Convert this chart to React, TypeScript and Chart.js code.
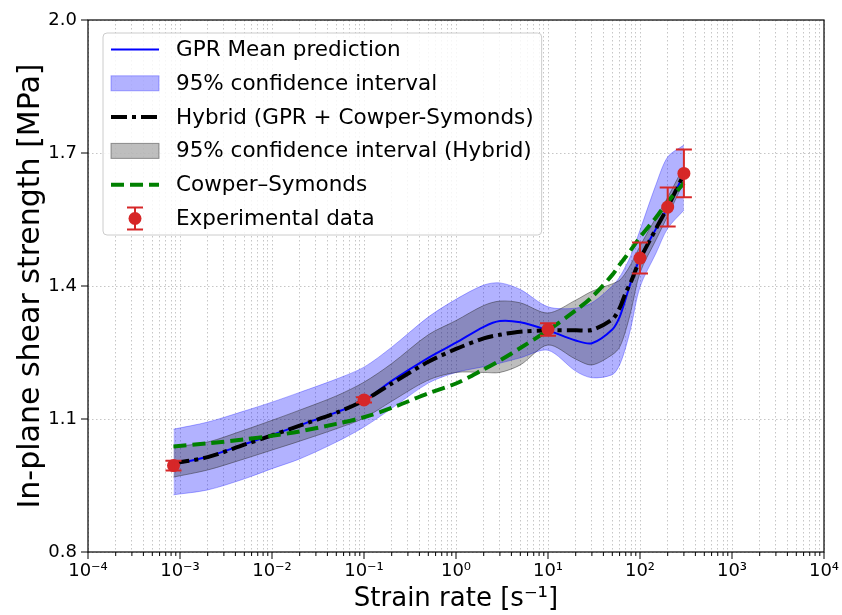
import React, { useEffect, useRef } from 'react';
import { Chart, registerables } from 'chart.js';

Chart.register(...registerables);

// ---------- data ----------
const strainRates = [8.5e-4, 2e-3, 5e-3, 1e-2, 2e-2, 5e-2, 0.1, 0.2, 0.5, 1, 2, 3, 5, 10, 20, 30, 50, 60, 70, 80, 100, 150, 200, 300];

const gprMean = [0.998, 1.015, 1.043, 1.064, 1.086, 1.115, 1.141, 1.186, 1.238, 1.272, 1.308, 1.321, 1.318, 1.300, 1.277, 1.271, 1.302, 1.330, 1.372, 1.410, 1.463, 1.530, 1.578, 1.652];
const gprLower = [0.929, 0.940, 0.965, 0.988, 1.010, 1.048, 1.082, 1.124, 1.181, 1.205, 1.218, 1.226, 1.238, 1.255, 1.208, 1.193, 1.200, 1.222, 1.262, 1.308, 1.398, 1.475, 1.530, 1.571];
const gprUpper = [1.077, 1.093, 1.118, 1.138, 1.160, 1.190, 1.217, 1.262, 1.330, 1.370, 1.402, 1.407, 1.392, 1.353, 1.350, 1.362, 1.400, 1.420, 1.445, 1.470, 1.526, 1.630, 1.691, 1.718];

const hybridMean = [1.000, 1.014, 1.042, 1.063, 1.085, 1.114, 1.142, 1.180, 1.229, 1.258, 1.282, 1.290, 1.297, 1.300, 1.300, 1.301, 1.325, 1.350, 1.385, 1.410, 1.460, 1.530, 1.578, 1.652];
const hybridLower = [0.969, 0.985, 1.010, 1.030, 1.050, 1.078, 1.102, 1.140, 1.188, 1.205, 1.205, 1.205, 1.222, 1.267, 1.235, 1.222, 1.245, 1.262, 1.300, 1.345, 1.430, 1.505, 1.558, 1.635];
const hybridUpper = [1.037, 1.048, 1.075, 1.097, 1.120, 1.152, 1.183, 1.225, 1.290, 1.322, 1.356, 1.366, 1.362, 1.339, 1.368, 1.388, 1.405, 1.413, 1.430, 1.450, 1.490, 1.555, 1.600, 1.670];

const cowperSymonds = [1.038, 1.045, 1.054, 1.062, 1.072, 1.089, 1.104, 1.125, 1.158, 1.180, 1.212, 1.232, 1.260, 1.300, 1.345, 1.375, 1.425, 1.448, 1.466, 1.482, 1.510, 1.555, 1.590, 1.632];

const expRates = [8.5e-4, 0.1, 10, 100, 200, 300];
const expStrength = [0.995, 1.143, 1.302, 1.463, 1.578, 1.654];
const expError = [0.011, 0.006, 0.014, 0.035, 0.044, 0.054];

const xDecades = [1e-4, 1e-3, 1e-2, 1e-1, 1e0, 1e1, 1e2, 1e3, 1e4];
const xTickLabels = ['10⁻⁴', '10⁻³', '10⁻²', '10⁻¹', '10⁰', '10¹', '10²', '10³', '10⁴'];
const yTicks = [0.8, 1.1, 1.4, 1.7, 2.0];
const yTickLabels = ['0.8', '1.1', '1.4', '1.7', '2.0'];

const legendLabels = [
  'GPR Mean prediction',
  '95% confidence interval',
  'Hybrid (GPR + Cowper-Symonds)',
  '95% confidence interval (Hybrid)',
  'Cowper–Symonds',
  'Experimental data',
];

// ---------- styles ----------
const FONT = 'DejaVu Sans';
const BLUE = '#0000ff';
const BLUE_FILL = 'rgba(0,0,255,0.3)';
const GRAY_FILL = 'rgba(40,40,40,0.3)';
const GRAY_EDGE = 'rgba(40,40,40,0.45)';
const GREEN = '#008000';
const RED = '#d62728';
const HYBRID_DASH = [16, 5, 4, 5];
const CS_DASH = [13, 6];
const TENSION = 0.3;

const pts = (ys: number[]) => strainRates.map((x, i) => ({ x, y: ys[i] }));

function decadeIndex(v: number) {
  for (let i = 0; i < xDecades.length; i++) {
    if (Math.abs(Math.log10(v) - Math.log10(xDecades[i])) < 1e-6) return i;
  }
  return -1;
}

const overlayPlugin = {
  id: 'overlay',
  afterDatasetsDraw(chart: any) {
    const { ctx, scales } = chart;
    const xs = scales.x, ys = scales.y;
    ctx.save();
    ctx.strokeStyle = RED;
    ctx.lineWidth = 2;
    expRates.forEach((r, i) => {
      const px = xs.getPixelForValue(r);
      const top = ys.getPixelForValue(expStrength[i] + expError[i]);
      const bot = ys.getPixelForValue(expStrength[i] - expError[i]);
      ctx.beginPath();
      ctx.moveTo(px, top); ctx.lineTo(px, bot);
      ctx.moveTo(px - 8, top); ctx.lineTo(px + 8, top);
      ctx.moveTo(px - 8, bot); ctx.lineTo(px + 8, bot);
      ctx.stroke();
    });
    ctx.restore();
  },
  afterDraw(chart: any) {
    const { ctx, chartArea: a, scales } = chart;
    ctx.save();
    // frame
    ctx.strokeStyle = '#000';
    ctx.lineWidth = 1.2;
    ctx.strokeRect(a.left, a.top, a.right - a.left, a.bottom - a.top);
    // ticks
    ctx.lineWidth = 1;
    ctx.beginPath();
    scales.x.ticks.forEach((t: any) => {
      const px = scales.x.getPixelForValue(t.value);
      const len = decadeIndex(t.value) >= 0 ? 7 : 4;
      ctx.moveTo(px, a.bottom); ctx.lineTo(px, a.bottom + len);
    });
    scales.y.ticks.forEach((t: any) => {
      const py = scales.y.getPixelForValue(t.value);
      ctx.moveTo(a.left, py); ctx.lineTo(a.left - 7, py);
    });
    ctx.stroke();

    // legend
    const fs = 21.5;
    ctx.font = `${fs}px "${FONT}"`;
    const bx = a.left + 15, by = a.top + 13;
    const handleX0 = bx + 8, handleX1 = bx + 56, textX = bx + 73;
    const rowH = 33.8, firstRow = by + 16.5;
    let maxW = 0;
    legendLabels.forEach(l => { maxW = Math.max(maxW, ctx.measureText(l).width); });
    const bw = textX - bx + maxW + 8;
    const bh = rowH * (legendLabels.length - 1) + 33;
    ctx.beginPath();
    ctx.roundRect(bx, by, bw, bh, 4);
    ctx.fillStyle = 'rgba(255,255,255,0.85)';
    ctx.fill();
    ctx.strokeStyle = '#cccccc';
    ctx.lineWidth = 1;
    ctx.stroke();

    legendLabels.forEach((label, i) => {
      const cy = firstRow + i * rowH;
      ctx.save();
      if (i === 0) {
        ctx.strokeStyle = BLUE; ctx.lineWidth = 2;
        ctx.beginPath(); ctx.moveTo(handleX0, cy); ctx.lineTo(handleX1, cy); ctx.stroke();
      } else if (i === 1 || i === 3) {
        ctx.fillStyle = i === 1 ? BLUE_FILL : GRAY_FILL;
        ctx.strokeStyle = i === 1 ? BLUE_FILL : GRAY_EDGE;
        ctx.fillRect(handleX0, cy - 7.5, handleX1 - handleX0, 15);
        ctx.lineWidth = 1;
        ctx.strokeRect(handleX0, cy - 7.5, handleX1 - handleX0, 15);
      } else if (i === 2) {
        ctx.strokeStyle = '#000'; ctx.lineWidth = 4; ctx.setLineDash(HYBRID_DASH);
        ctx.beginPath(); ctx.moveTo(handleX0, cy); ctx.lineTo(handleX1, cy); ctx.stroke();
      } else if (i === 4) {
        ctx.strokeStyle = GREEN; ctx.lineWidth = 4; ctx.setLineDash(CS_DASH);
        ctx.beginPath(); ctx.moveTo(handleX0, cy); ctx.lineTo(handleX1, cy); ctx.stroke();
      } else {
        const mx = (handleX0 + handleX1) / 2;
        ctx.strokeStyle = RED; ctx.lineWidth = 2;
        ctx.beginPath();
        ctx.moveTo(mx, cy - 11); ctx.lineTo(mx, cy + 11);
        ctx.moveTo(mx - 8, cy - 11); ctx.lineTo(mx + 8, cy - 11);
        ctx.moveTo(mx - 8, cy + 11); ctx.lineTo(mx + 8, cy + 11);
        ctx.stroke();
        ctx.fillStyle = RED;
        ctx.beginPath(); ctx.arc(mx, cy, 6.5, 0, Math.PI * 2); ctx.fill();
      }
      ctx.restore();
      ctx.fillStyle = '#000';
      ctx.textBaseline = 'middle';
      ctx.textAlign = 'left';
      ctx.fillText(label, textX, cy + 1);
    });
    ctx.restore();
  },
};

const curve = (label: string, ys: number[], extra: any) => ({
  label,
  data: pts(ys),
  pointRadius: 0,
  tension: TENSION,
  fill: false,
  ...extra,
});

export default function App() {
  const ref = useRef<HTMLCanvasElement | null>(null);

  useEffect(() => {
    if (!ref.current) return;
    Chart.defaults.font.family = FONT;
    Chart.defaults.color = '#000';

    const gridColor = 'rgba(170,170,170,0.85)';
    const chart = new Chart(ref.current, {
      type: 'line',
      data: {
        datasets: [
          {
            label: legendLabels[5],
            data: expRates.map((x, i) => ({ x, y: expStrength[i] })),
            showLine: false,
            pointRadius: 6.5,
            pointHoverRadius: 6.5,
            pointBackgroundColor: RED,
            pointBorderColor: RED,
            pointBorderWidth: 0,
            order: 0,
          } as any,
          curve(legendLabels[4], cowperSymonds, { borderColor: GREEN, borderWidth: 4, borderDash: CS_DASH, order: 1 }),
          curve(legendLabels[2], hybridMean, { borderColor: '#000', borderWidth: 4, borderDash: HYBRID_DASH, order: 2 }),
          curve(legendLabels[0], gprMean, { borderColor: BLUE, borderWidth: 2, order: 3 }),
          curve('hybrid upper', hybridUpper, { borderColor: GRAY_EDGE, backgroundColor: GRAY_FILL, borderWidth: 1, fill: '+1', order: 4 }),
          curve('hybrid lower', hybridLower, { borderColor: GRAY_EDGE, borderWidth: 1, order: 5 }),
          curve('gpr upper', gprUpper, { borderColor: BLUE_FILL, backgroundColor: BLUE_FILL, borderWidth: 1, fill: '+1', order: 6 }),
          curve('gpr lower', gprLower, { borderColor: BLUE_FILL, borderWidth: 1, order: 7 }),
        ],
      },
      options: {
        animation: false,
        responsive: true,
        maintainAspectRatio: false,
        events: [],
        layout: { padding: { top: 20, right: 18, left: 0, bottom: 0 } },
        plugins: {
          legend: { display: false },
          tooltip: { enabled: false },
          filler: { propagate: false, drawTime: 'beforeDatasetsDraw' },
        } as any,
        scales: {
          x: {
            type: 'logarithmic',
            min: 1e-4,
            max: 1e4,
            afterBuildTicks: (scale: any) => {
              const ticks: any[] = [];
              for (let e = -4; e <= 4; e++) {
                for (let k = 1; k <= 9; k++) {
                  const v = k * Math.pow(10, e);
                  if (v > 1e4 * 1.0001) break;
                  ticks.push({ value: k === 1 ? xDecades[e + 4] : v });
                }
              }
              scale.ticks = ticks;
            },
            afterFit: (scale: any) => {
              scale.height = 63;
              scale.paddingLeft = 0;
              scale.paddingRight = 0;
            },
            ticks: {
              autoSkip: false,
              maxRotation: 0,
              padding: 9,
              font: { size: 18, family: FONT },
              color: '#000',
              callback: (v: any) => {
                const i = decadeIndex(Number(v));
                return i >= 0 ? xTickLabels[i] : '';
              },
            },
            grid: { color: gridColor, lineWidth: 0.8, drawTicks: false },
            border: { display: false, dash: [1.5, 2.5] },
            title: {
              display: true,
              text: 'Strain rate [s⁻¹]',
              font: { size: 26, family: FONT },
              color: '#000',
              padding: { top: 0, bottom: 0 },
            },
          },
          y: {
            type: 'linear',
            min: 0.8,
            max: 2.0,
            afterBuildTicks: (scale: any) => {
              scale.ticks = yTicks.map(v => ({ value: v }));
            },
            afterFit: (scale: any) => {
              scale.width = 88;
              scale.paddingTop = 0;
              scale.paddingBottom = 0;
            },
            ticks: {
              autoSkip: false,
              padding: 11,
              font: { size: 18, family: FONT },
              color: '#000',
              callback: (v: any) => {
                const i = yTicks.findIndex(t => Math.abs(t - Number(v)) < 1e-9);
                return i >= 0 ? yTickLabels[i] : '';
              },
            },
            grid: { color: gridColor, lineWidth: 0.8, drawTicks: false },
            border: { display: false, dash: [1.5, 2.5] },
            title: {
              display: true,
              text: 'In-plane shear strength [MPa]',
              font: { size: 30, family: FONT },
              color: '#000',
              padding: { top: 13, bottom: 0 },
            },
          },
        },
      } as any,
      plugins: [overlayPlugin],
    });
    return () => chart.destroy();
  }, []);

  return (
    <div style={{ position: 'fixed', left: 0, top: 0, width: 842, height: 615, background: '#fff' }}>
      <canvas ref={ref} />
    </div>
  );
}
